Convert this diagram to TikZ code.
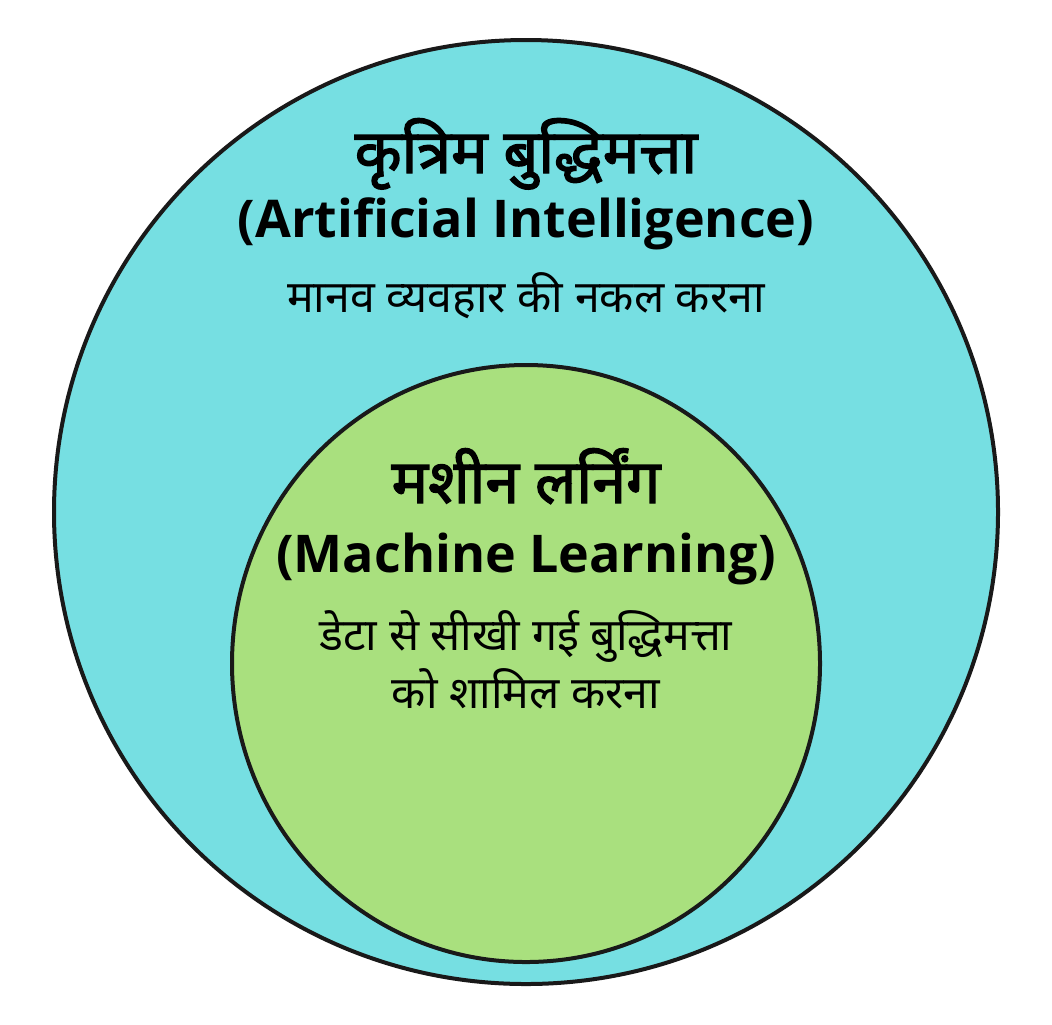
\documentclass[tikz,border=0pt]{standalone}
\usepackage{fontspec}
\setmainfont{Noto Sans}[Script=Devanagari, BoldFont={Noto Sans}, BoldFeatures={FakeBold=2.2}]
\newfontfamily\latinbold{Open Sans}[BoldFont={Open Sans Bold}]
\usetikzlibrary{shapes.geometric}
\definecolor{aicyan}{HTML}{76DFE2}
\definecolor{mlgreen}{HTML}{A9E07E}
\tikzset{
  ring/.style={draw=black!90, line width=2pt, inner sep=0pt},
  headline/.style={anchor=base, font=\bfseries\fontsize{30.5}{36}\selectfont},
  engline/.style={anchor=base, font=\latinbold\bfseries\fontsize{26}{32}\selectfont},
  subline/.style={anchor=base, font=\fontsize{22.3}{26}\selectfont}
}
\begin{document}
\begin{tikzpicture}[x=0.5pt,y=-0.5pt]
    \useasboundingbox (0,0) rectangle (1052,1024);

    % outer circle: AI
    \node[ring, circle, fill=aicyan, minimum size=472pt] (ai) at (526,512) {};
    \node[headline] (aihindi) at (526,173) {कृत्रिम बुद्धिमत्ता};
    \node[engline] (aieng) at (526,237) {(Artificial Intelligence)};
    \node[subline] (aitext) at (526,312) {मानव व्यवहार की नकल करना};

    % inner ellipse: ML
    \node[ring, ellipse, fill=mlgreen, minimum width=294pt, minimum height=298.5pt] (ml) at (526,663.5) {};
    \node[headline] (mlhindi) at (526,503) {मशीन लर्निंग};
    \node[engline] (mleng) at (526,572) {(Machine Learning)};
    \node[subline] (mltexta) at (526,650) {डेटा से सीखी गई बुद्धिमत्ता};
    \node[subline] (mltextb) at (526,708) {को शामिल करना};
\end{tikzpicture}
\end{document}
